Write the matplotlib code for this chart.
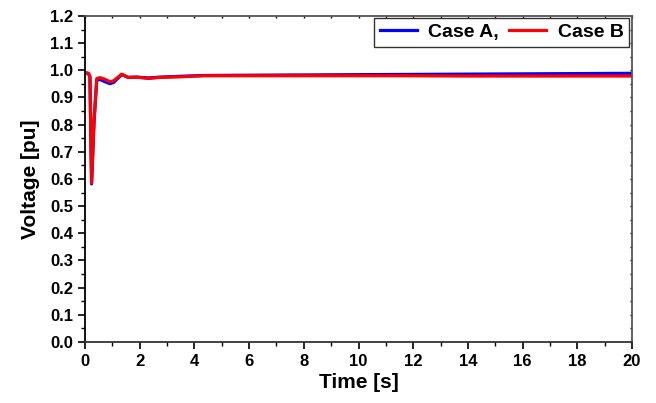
import matplotlib
matplotlib.use("Agg")
import matplotlib.pyplot as plt
from matplotlib.ticker import MultipleLocator, FormatStrFormatter

plt.rcParams['font.family'] = ['Liberation Sans', 'DejaVu Sans']
plt.rcParams['font.weight'] = 'bold'

# time [s] and voltage [pu]
time_a = [0.0, 0.12, 0.18, 0.24, 0.33, 0.43, 0.55, 0.73, 0.91, 1.04, 1.34, 1.58,
          1.89, 2.32, 2.74, 3.47, 4.33, 6.0, 8.0, 10.0, 12.0, 14.0, 16.0, 18.0, 20.0]
volt_a = [0.991, 0.989, 0.975, 0.582, 0.810, 0.965, 0.966, 0.958, 0.951, 0.955, 0.984, 0.974,
          0.975, 0.972, 0.975, 0.978, 0.981, 0.982, 0.983, 0.984, 0.985, 0.986, 0.987, 0.988, 0.989]

time_b = [0.0, 0.12, 0.18, 0.24, 0.33, 0.43, 0.55, 0.73, 0.91, 1.04, 1.34, 1.58,
          1.89, 2.32, 2.74, 3.47, 4.33, 6.0, 8.0, 10.0, 12.0, 14.0, 16.0, 18.0, 20.0]
volt_b = [0.991, 0.989, 0.978, 0.586, 0.817, 0.970, 0.973, 0.967, 0.958, 0.961, 0.986, 0.974,
          0.975, 0.970, 0.974, 0.976, 0.980, 0.980, 0.980, 0.980, 0.980, 0.979, 0.979, 0.979, 0.979]

fig = plt.figure(figsize=(6.56, 4.03), dpi=100)
ax = fig.add_axes([0.1296, 0.1514, 0.8338, 0.8089])

ax.plot(time_a, volt_a, color='#0000ff', linewidth=2.3, label='Case A,')
ax.plot(time_b, volt_b, color='#ff0000', linewidth=2.3, label='Case B')

ax.set_xlim(0, 20)
ax.set_ylim(0, 1.2)
ax.xaxis.set_major_locator(MultipleLocator(2))
ax.xaxis.set_minor_locator(MultipleLocator(1))
ax.yaxis.set_major_locator(MultipleLocator(0.1))
ax.yaxis.set_minor_locator(MultipleLocator(0.05))
ax.yaxis.set_major_formatter(FormatStrFormatter('%.1f'))

# outward ticks on bottom/left, tiny inward ticks on top/right
ax.tick_params(which='major', direction='out', length=5, width=1.2, labelsize=12)
ax.tick_params(which='minor', direction='out', length=3, width=1.0)
ax2 = ax.secondary_xaxis('top')
ax2.xaxis.set_major_locator(MultipleLocator(2))
ax2.xaxis.set_minor_locator(MultipleLocator(1))
ax2.tick_params(which='both', direction='in', length=1.5, width=1.0, labeltop=False)
ay2 = ax.secondary_yaxis('right')
ay2.yaxis.set_major_locator(MultipleLocator(0.1))
ay2.yaxis.set_minor_locator(MultipleLocator(0.05))
ay2.tick_params(which='both', direction='in', length=1.5, width=1.0, labelright=False)
for a in (ax2, ay2):
    for sp in a.spines.values():
        sp.set_visible(False)

ax.spines['left'].set_color('black')
ax.spines['bottom'].set_color('#333333')
ax.spines['top'].set_color('#555555')
ax.spines['right'].set_color('#555555')
for sp in ax.spines.values():
    sp.set_linewidth(1.3)

ax.set_xlabel('Time [s]', fontsize=15, fontweight='bold', labelpad=3)
ax.set_ylabel('Voltage [pu]', fontsize=15, fontweight='bold', labelpad=7)

leg = ax.legend(loc='upper right', ncol=2, fontsize=14, fancybox=False,
                edgecolor='#333333', framealpha=1, borderpad=0.3,
                handlelength=1.9, columnspacing=0.5, handletextpad=0.6,
                borderaxespad=0, bbox_to_anchor=(0.995, 0.995))
leg.get_frame().set_linewidth(1.0)

fig.savefig('out.png', dpi=100)
